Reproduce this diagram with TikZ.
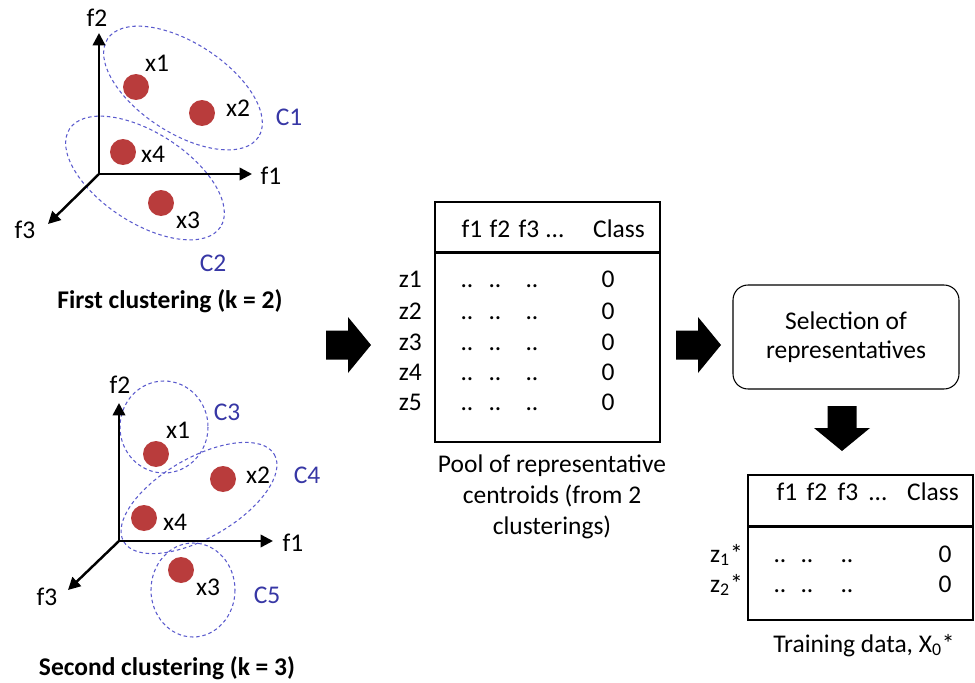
\documentclass[tikz,border=0pt]{standalone}
\usepackage{fontspec}
\setmainfont{Carlito}
\usetikzlibrary{arrows.meta,positioning,calc}
\definecolor{dotred}{RGB}{185,60,60}
\definecolor{clusline}{RGB}{90,90,205}
\definecolor{cluslab}{RGB}{55,55,165}

\begin{document}
\begin{tikzpicture}[
		x=0.02cm, y=-0.02cm,
		font=\fontsize{14.5}{17.6}\selectfont,
		axis/.style={line width=1.4pt, -{Triangle[length=7pt,width=7pt]}},
		pt/.style={circle, fill=dotred, minimum size=0.52cm, inner sep=0pt},
		clus/.style={draw=clusline, dash pattern=on 2pt off 1.6pt, line width=0.6pt},
		clab/.style={text=cluslab},
		tbl/.style={draw, line width=0.6pt, minimum width=4.5cm},
		cell/.style={anchor=base},
		fatarrow/.pic={\fill (-22,-14.5) -- (0,-14.5) -- (0,-28) -- (23,0) -- (0,28) -- (0,14.5) -- (-22,14.5) -- cycle;}
		]
		
		\useasboundingbox (0,0) rectangle (975,683);
		
		% First clustering
		\draw[clus, rotate around={-33:(183,88)}] (183,88) ellipse [x radius=90, y radius=45];
		\draw[clus, rotate around={-33:(145,178)}] (145,178) ellipse [x radius=90, y radius=45];
		
		\coordinate (oA) at (99,174);
		\coordinate (yA) at (99,33);
		\coordinate (xA) at (252,174);
		\coordinate (zA) at (48,224);
		\draw[axis] (oA) -- (yA);
		\draw[axis] (oA) -- (xA);
		\draw[axis] (oA) -- (zA);
		\node (f2A) at (97,18) {f2};
		\node (f1A) at (271,176) {f1};
		\node (f3A) at (25,230) {f3};
		
		\node[pt] (x1A) at (136,87) {};
		\node[pt] (x2A) at (202,113) {};
		\node[pt] (x4A) at (123,152) {};
		\node[pt] (x3A) at (161,203) {};
		\node (x1Al) at (157,63) {x1};
		\node (x2Al) at (238,108) {x2};
		\node (x4Al) at (153,154) {x4};
		\node (x3Al) at (188,220) {x3};
		\node[clab] (C1) at (289,117) {C1};
		\node[clab] (C2) at (213,263) {C2};
		\node[font=\fontsize{14.5}{17.6}\selectfont\bfseries, anchor=base] (capA) at (170,308) {First clustering (k = 2)};
		
		% Second clustering
		\draw[clus] (164,427) ellipse [x radius=44, y radius=46];
		\draw[clus, rotate around={30:(199,498)}] (199,498) ellipse [x radius=87, y radius=40];
		\draw[clus] (193,590) ellipse [x radius=42, y radius=47];
		
		\coordinate (oB) at (119,541);
		\coordinate (yB) at (119,403);
		\coordinate (xB) at (273,541);
		\coordinate (zB) at (68,590);
		\draw[axis] (oB) -- (yB);
		\draw[axis] (oB) -- (xB);
		\draw[axis] (oB) -- (zB);
		\node (f2B) at (120,385) {f2};
		\node (f1B) at (293,543) {f1};
		\node (f3B) at (47,597) {f3};
		
		\node[pt] (x1B) at (156,454) {};
		\node[pt] (x2B) at (223,479) {};
		\node[pt] (x4B) at (144,518) {};
		\node[pt] (x3B) at (181,570) {};
		\node (x1Bl) at (178,430) {x1};
		\node (x2Bl) at (258,475) {x2};
		\node (x4Bl) at (175,522) {x4};
		\node (x3Bl) at (208,587) {x3};
		\node[clab] (C3) at (227,412) {C3};
		\node[clab] (C4) at (307,475) {C4};
		\node[clab] (C5) at (267,595) {C5};
		\node[font=\fontsize{14.5}{17.6}\selectfont\bfseries, anchor=base] (capB) at (167,675) {Second clustering (k = 3)};
		
		% Arrows
		\pic (arrA) at (348,345) {fatarrow};
		\pic (arrB) at (698,345) {fatarrow};
		\pic[rotate=-90] (arrC) at (842,428) {fatarrow};
		
		% Pool table
		\node[tbl, minimum height=4.8cm] (pool) at (547.5,322) {};
		\draw[line width=1.3pt] ($(pool.north west)+(0,51)$) -- ($(pool.north east)+(0,51)$);
		\foreach \h/\x in {f1/472,f2/500,f3/529,\ldots/555,Class/619}
		\node[cell] (ph-\x) at (\x,237) {\h};
		\foreach \i/\y in {1/287,2/319,3/350,4/380,5/410}{
			\node[cell, anchor=base east] (z\i) at (428,\y) {z\i};
			\node[cell] (p\i-1) at (467,\y) {..};
			\node[cell] (p\i-2) at (495,\y) {..};
			\node[cell] (p\i-3) at (532,\y) {..};
			\node[cell] (p\i-c) at (608,\y) {0};
		}
		\node[align=center, inner sep=0pt] (poolcap) at (552,497) {Pool of representative\\centroids (from 2\\clusterings)};
		
		% Selection
		\node[draw, line width=0.6pt, rounded corners=0.3cm, minimum width=4.52cm, minimum height=2.08cm, align=center,
		font=\fontsize{14.5}{16.5}\selectfont] (select) at (846,337) {Selection of\\representatives};
		
		% Training table
		\node[tbl, minimum height=2.9cm] (train) at (860.5,547.5) {};
		\draw[line width=1.3pt] ($(train.north west)+(0,52)$) -- ($(train.north east)+(0,52)$);
		\foreach \h/\x in {f1/787,f2/817,f3/848,\ldots/878,Class/933}
		\node[cell] (th-\x) at (\x,500) {\h};
		\foreach \i/\y in {1/562,2/592}{
			\node[cell, anchor=base east] (s\i) at (749,\y) {z\textsubscript{\i}*};
			\node[cell] (t\i-1) at (780,\y) {..};
			\node[cell] (t\i-2) at (807,\y) {..};
			\node[cell] (t\i-3) at (847,\y) {..};
			\node[cell] (t\i-c) at (945,\y) {0};
		}
		\node[cell] (traincap) at (864,652) {Training data, X\textsubscript{0}*};
		
	\end{tikzpicture}
\end{document}
